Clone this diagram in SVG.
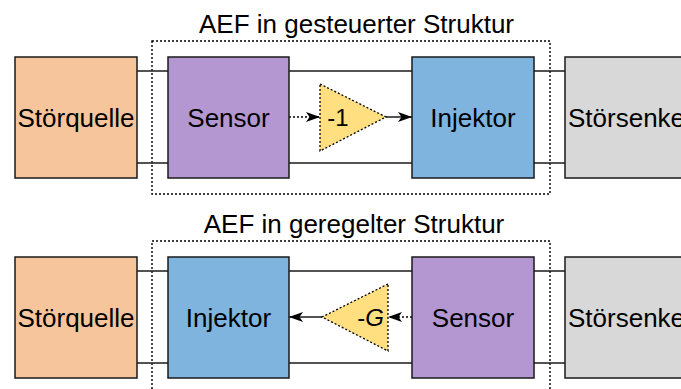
<svg xmlns="http://www.w3.org/2000/svg" width="681" height="389" viewBox="0 0 681 389">
<defs>
<style>
.box{stroke:#1a1a1a;stroke-width:1.5}
.q{fill:#F7C59B}.s{fill:#B497D0}.i{fill:#7EB4DD}.k{fill:#D8D8D8}
.tri{fill:#FFDF80;stroke:#000;stroke-width:1.3;stroke-dasharray:2 2}
.frame{fill:none;stroke:#000;stroke-width:1.4;stroke-dasharray:2 2}
.wire{stroke:#1a1a1a;stroke-width:1.5;fill:none}
.dash{stroke:#000;stroke-width:1.4;fill:none;stroke-dasharray:2 2}
text{font-family:"Liberation Sans",Arial,sans-serif;fill:#000}
.lbl{font-size:26px;text-anchor:middle}
.g{font-size:24px;text-anchor:middle}
</style>
<marker id="ah" viewBox="0 0 14 10" refX="14" refY="5" markerWidth="14" markerHeight="10" markerUnits="userSpaceOnUse" orient="auto">
<path d="M0,0 L14,5 L0,10 L3.5,5 Z" fill="#000"/>
</marker>
</defs>
<rect width="681" height="389" fill="#fff"/>

<g id="frame-top">
<rect class="frame" x="152" y="41" width="398" height="153"/>
<text class="lbl" x="356.5" y="32.5">AEF in gesteuerter Struktur</text>
</g>
<g id="frame-bottom">
<rect class="frame" x="152" y="241" width="398" height="160"/>
<text class="lbl" x="354" y="232.5">AEF in geregelter Struktur</text>
</g>

<g id="connectors">
<line class="wire" x1="137" y1="71" x2="168" y2="71"/>
<line class="wire" x1="289" y1="71" x2="412" y2="71"/>
<line class="wire" x1="534" y1="71" x2="565" y2="71"/>
<line class="wire" x1="137" y1="163" x2="168" y2="163"/>
<line class="wire" x1="289" y1="163" x2="412" y2="163"/>
<line class="wire" x1="534" y1="163" x2="565" y2="163"/>
<line class="dash" x1="289" y1="117" x2="320" y2="117" marker-end="url(#ah)"/>
<line class="wire" x1="386" y1="117" x2="412" y2="117" marker-end="url(#ah)"/>

<line class="wire" x1="137" y1="271" x2="168" y2="271"/>
<line class="wire" x1="289" y1="271" x2="412" y2="271"/>
<line class="wire" x1="534" y1="271" x2="565" y2="271"/>
<line class="wire" x1="137" y1="363" x2="168" y2="363"/>
<line class="wire" x1="289" y1="363" x2="412" y2="363"/>
<line class="wire" x1="534" y1="363" x2="565" y2="363"/>
<line class="dash" x1="412" y1="317" x2="388" y2="317" marker-end="url(#ah)"/>
<line class="wire" x1="322" y1="317" x2="289" y2="317" marker-end="url(#ah)"/>
</g>

<g id="stoerquelle-top"><rect class="box q" x="15" y="57" width="122" height="121"/><text class="lbl" x="76" y="126.5">Störquelle</text></g>
<g id="sensor-top"><rect class="box s" x="168" y="57" width="121" height="121"/><text class="lbl" x="228.5" y="126.5">Sensor</text></g>
<g id="gain-top"><polygon class="tri" points="320,84 386,117 320,151"/><text class="g" x="338" y="126">-1</text></g>
<g id="injektor-top"><rect class="box i" x="412" y="57" width="122" height="121"/><text class="lbl" x="473" y="126.5">Injektor</text></g>
<g id="stoersenke-top"><rect class="box k" x="565" y="57" width="130" height="121"/><text x="568" y="126.5" style="font-size:26px">Störsenke</text></g>

<g id="stoerquelle-bottom"><rect class="box q" x="15" y="257" width="122" height="121"/><text class="lbl" x="76" y="326.5">Störquelle</text></g>
<g id="injektor-bottom"><rect class="box i" x="168" y="257" width="121" height="121"/><text class="lbl" x="228.5" y="326.5">Injektor</text></g>
<g id="gain-bottom"><polygon class="tri" points="388,284 322,317 388,351"/><text class="g" x="370.5" y="326">-<tspan font-style="italic">G</tspan></text></g>
<g id="sensor-bottom"><rect class="box s" x="412" y="257" width="122" height="121"/><text class="lbl" x="473" y="326.5">Sensor</text></g>
<g id="stoersenke-bottom"><rect class="box k" x="565" y="257" width="130" height="121"/><text x="568" y="326.5" style="font-size:26px">Störsenke</text></g>
</svg>
